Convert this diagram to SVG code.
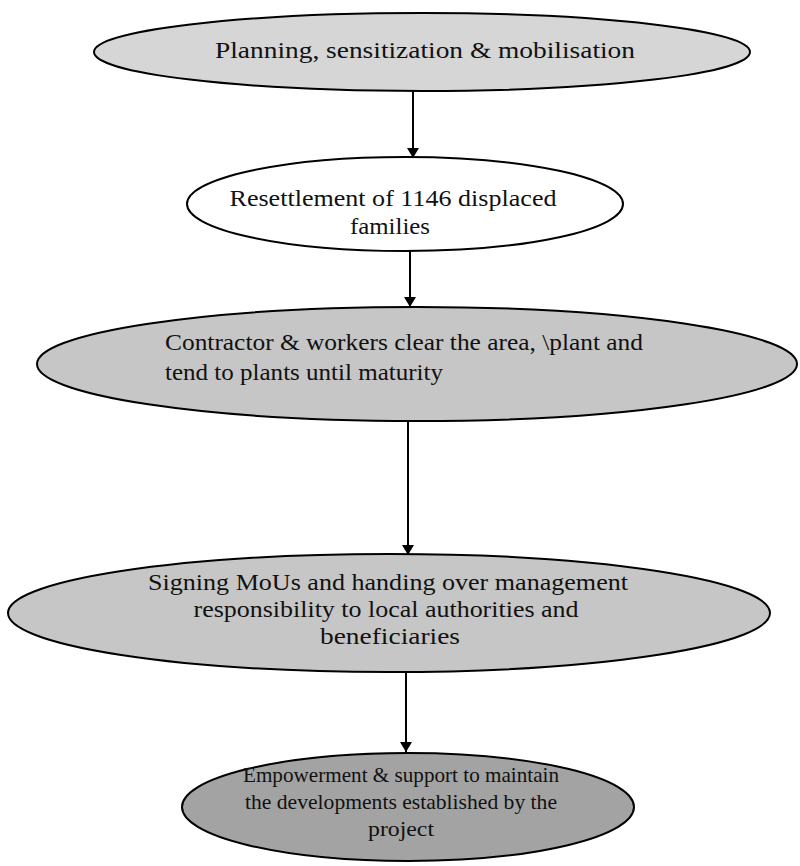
<svg xmlns="http://www.w3.org/2000/svg" width="800" height="866" viewBox="0 0 800 866">
<defs>
<marker id="ah" viewBox="0 0 10 12" refX="10" refY="6" markerWidth="14" markerHeight="12" orient="auto" markerUnits="userSpaceOnUse">
<path d="M0,0 L10,6 L0,12 z" fill="#000"/>
</marker>
<style>
.n{stroke:#000;stroke-width:2}
.t{font-family:"Liberation Serif","Times New Roman",serif;font-size:24px;fill:#111}
.s{font-size:22px}
.c{text-anchor:middle}
.e{stroke:#000;stroke-width:2;fill:none;marker-end:url(#ah)}
</style>
</defs>
<rect width="800" height="866" fill="#fff"/>
<g id="connectors">
<line class="e" x1="413" y1="91" x2="413" y2="158"/>
<line class="e" x1="410" y1="251" x2="410" y2="307"/>
<line class="e" x1="408" y1="421" x2="408" y2="555"/>
<line class="e" x1="406" y1="672" x2="406" y2="752"/>
</g>
<g id="n1">
<ellipse class="n" cx="422" cy="52" rx="328" ry="39" fill="#d6d6d6"/>
<text class="t c" x="425" y="58" textLength="420" lengthAdjust="spacingAndGlyphs">Planning, sensitization &amp; mobilisation</text>
</g>
<g id="n2">
<ellipse class="n" cx="405" cy="204" rx="218" ry="47" fill="#fff"/>
<text class="t c" x="393" y="206" textLength="327" lengthAdjust="spacingAndGlyphs">Resettlement of 1146 displaced</text>
<text class="t c" x="390" y="234" textLength="80" lengthAdjust="spacingAndGlyphs">families</text>
</g>
<g id="n3">
<ellipse class="n" cx="417" cy="364" rx="380" ry="57" fill="#c6c6c6"/>
<text class="t" x="165" y="350" textLength="478" lengthAdjust="spacingAndGlyphs">Contractor &amp; workers clear the area, \plant and</text>
<text class="t" x="165" y="380" textLength="278" lengthAdjust="spacingAndGlyphs">tend to plants until maturity</text>
</g>
<g id="n4">
<ellipse class="n" cx="389" cy="613" rx="381" ry="59" fill="#c6c6c6"/>
<text class="t c" x="388" y="590" textLength="480" lengthAdjust="spacingAndGlyphs">Signing MoUs and handing over management</text>
<text class="t c" x="386" y="617" textLength="385" lengthAdjust="spacingAndGlyphs">responsibility to local authorities and</text>
<text class="t c" x="390" y="644" textLength="140" lengthAdjust="spacingAndGlyphs">beneficiaries</text>
</g>
<g id="n5">
<ellipse class="n" cx="408" cy="807" rx="226" ry="54" fill="#a3a3a3"/>
<text class="t s c" x="401" y="782" textLength="316" lengthAdjust="spacingAndGlyphs">Empowerment &amp; support to maintain</text>
<text class="t s c" x="401" y="809" textLength="312" lengthAdjust="spacingAndGlyphs">the developments established by the</text>
<text class="t s c" x="401" y="836" textLength="66" lengthAdjust="spacingAndGlyphs">project</text>
</g>
</svg>
